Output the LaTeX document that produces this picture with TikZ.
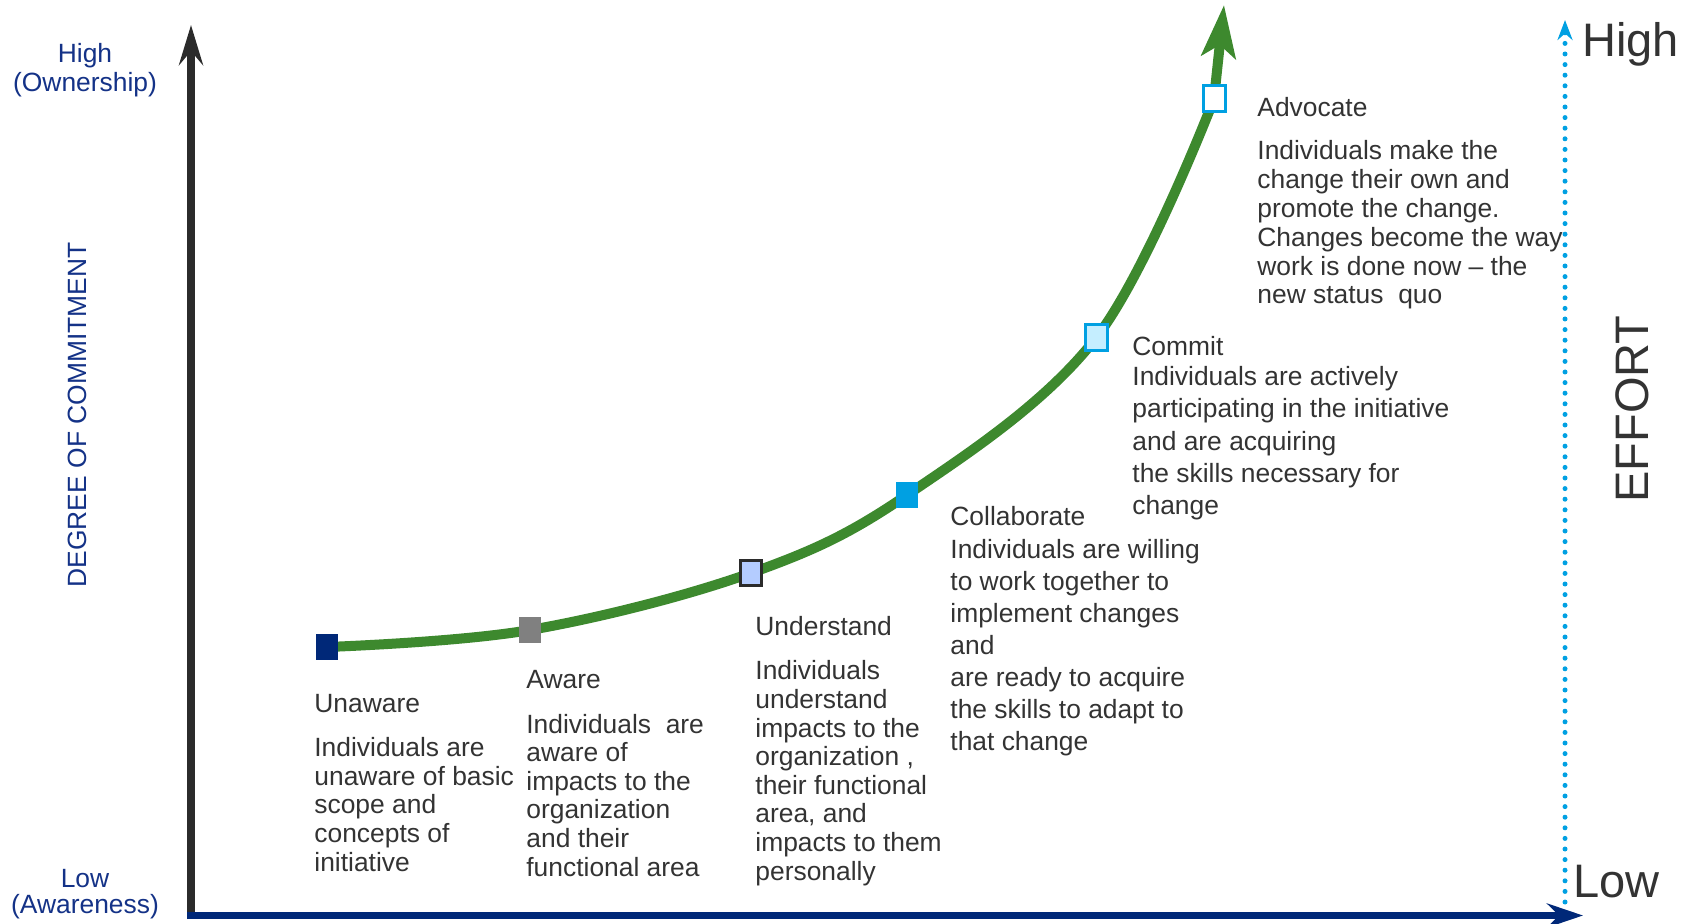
\documentclass[tikz,border=0pt]{standalone}
\usepackage{fontspec}
\setsansfont{Liberation Sans}
\usetikzlibrary{arrows.meta, backgrounds}

\definecolor{axisblack}{RGB}{43,43,43}
\definecolor{axisnavy}{RGB}{0,40,120}
\definecolor{labelnavy}{RGB}{20,50,135}
\definecolor{txtgray}{RGB}{51,51,51}
\definecolor{curvegreen}{RGB}{61,137,46}
\definecolor{markgray}{RGB}{128,128,128}
\definecolor{lightblue}{RGB}{180,204,255}
\definecolor{skyblue}{RGB}{0,160,226}
\definecolor{lightcyan}{RGB}{197,238,255}

\begin{document}
\begin{tikzpicture}[
    x=0.5pt, y=-0.5pt,
    >=Stealth,
    font=\sffamily
]

    % Styles for markers, stage texts and axis labels
    % (multi-line texts are placed by the baseline of their last line)
    \tikzset{
        stagebox/.style={rectangle, inner sep=0pt, minimum width=11pt, minimum height=13pt},
        framedbox/.style={stagebox, line width=1.5pt, minimum width=10.5pt, minimum height=12.5pt},
        stagename/.style={anchor=base west, inner sep=0pt, text=txtgray,
            font=\sffamily\fontsize{13.2}{14.3}\selectfont},
        stagetext/.style={stagename, align=left},
        widetext/.style={stagetext, font=\sffamily\fontsize{13.2}{16}\selectfont},
        axislabel/.style={anchor=base, inner sep=0pt, text=labelnavy, align=center,
            font=\sffamily\fontsize{13.2}{14.5}\selectfont},
        bigword/.style={inner sep=0pt, text=txtgray, font=\sffamily\fontsize{23.5}{28}\selectfont}
    }

    \useasboundingbox (0,0) rectangle (1690,924);

    % Axes
    \coordinate (origin) at (191,919);
    \coordinate (ytop) at (191,25);
    \coordinate (xstart) at (187,915.5);
    \coordinate (xend) at (1583,915.5);
    \draw[axisblack, line width=4pt, -{Stealth[length=20pt, width=12pt, inset=7pt]}] (origin) -- (ytop);
    \draw[axisnavy, line width=3.5pt, -{Stealth[length=18pt, width=12pt, inset=6pt]}] (xstart) -- (xend);

    % Effort scale
    \coordinate (effortlow) at (1565,902);
    \coordinate (efforthigh) at (1565,20);
    \draw[skyblue, line width=2.5pt, line cap=round, dash pattern=on 0pt off 5.3pt,
        -{Stealth[length=10pt, width=7.5pt]}] (effortlow) -- (efforthigh);
    \node[bigword, anchor=base west] (high) at (1582,57) {High};
    \node[bigword, anchor=base west] (low) at (1573,897) {Low};
    \node[bigword, anchor=base, rotate=90] (effort) at (1648,409) {EFFORT};

    % Commitment labels
    \node[axislabel] (ownership) at (85,92) {High\\(Ownership)};
    \node[axislabel, font=\sffamily\fontsize{13.2}{13}\selectfont] (awareness) at (85,913) {Low\\(Awareness)};
    \node[axislabel, rotate=90] (commitment) at (86,415) {DEGREE OF COMMITMENT};

    % Stage markers
    \node[stagebox, fill=axisnavy] (unaware) at (327,647) {};
    \node[stagebox, fill=markgray] (aware) at (530,630) {};
    \node[framedbox, fill=lightblue, draw=axisblack, minimum width=10.5pt, minimum height=12.5pt] (understand) at (751,573) {};
    \node[stagebox, fill=skyblue] (collaborate) at (907,495) {};
    \node[framedbox, fill=lightcyan, draw=skyblue, minimum width=11pt, minimum height=13pt] (commit) at (1096,338) {};
    \node[framedbox, fill=white, draw=skyblue, minimum width=11pt, minimum height=13pt] (advocate) at (1214,99) {};
    \coordinate (peak) at (1224,5);

    % Commitment curve, straight from the last marker to the tip
    \begin{scope}[on background layer]
        \draw[curvegreen, line width=5pt, -{Stealth[length=26pt, width=17pt, inset=6pt]}]
            plot[smooth, tension=0.6] coordinates {(unaware.center) (aware.center) (understand.center)
                (collaborate.center) (commit.center) (advocate.center)} -- (peak);
    \end{scope}

    % Stage texts
    \node[stagename] (unaware-name) at (314,712) {Unaware};
    \node[stagetext] (unaware-text) at (314,871)
        {Individuals are\\unaware of basic\\scope and\\concepts of\\initiative};

    \node[stagename] (aware-name) at (526,688) {Aware};
    \node[stagetext] (aware-text) at (526,876)
        {Individuals~ are\\aware of\\impacts to the\\organization\\and their\\functional area};

    \node[stagename] (understand-name) at (755,635) {Understand};
    \node[stagetext] (understand-text) at (755,880)
        {Individuals\\understand\\impacts to the\\organization ,\\their functional\\area, and\\impacts to them\\personally};

    \node[stagename] (collaborate-name) at (950,525) {Collaborate};
    \node[widetext] (collaborate-text) at (950,750)
        {Individuals are willing\\to work together to\\implement changes\\and\\are ready to acquire\\the skills to adapt to\\that change};

    \node[stagename] (commit-name) at (1132,356) {Commit};
    \node[widetext] (commit-text) at (1132,514)
        {Individuals are actively\\participating in the initiative\\and are acquiring\\the skills necessary for\\change};

    \node[stagename] (advocate-name) at (1257,117) {Advocate};
    \node[stagetext, font=\sffamily\fontsize{13.2}{14.4}\selectfont] (advocate-text) at (1257,304)
        {Individuals make the\\change their own and\\promote the change.\\Changes become the way\\work is done now – the\\new status~ quo};

\end{tikzpicture}
\end{document}
